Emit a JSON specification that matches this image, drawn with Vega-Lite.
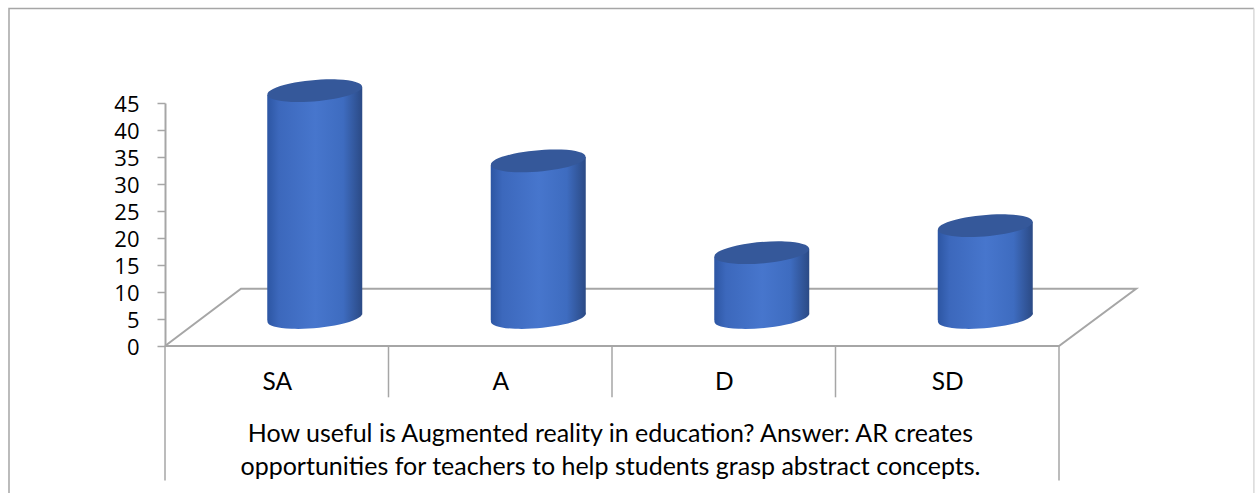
{"$schema":"https://vega.github.io/schema/vega-lite/v6.json","width":894,"height":243,"autosize":{"type":"none"},"padding":{"left":165,"top":103,"right":196,"bottom":147},"background":"white","config":{"view":{"stroke":null}},
"datasets":{"answers":[{"answer":"SA","pos":0.5,"value":42},{"answer":"A","pos":1.5,"value":29},{"answer":"D","pos":2.5,"value":12},{"answer":"SD","pos":3.5,"value":17}],
"frame":[{"order":1,"pos":-0.698,"value":-30},{"order":2,"pos":-0.698,"value":62.5},{"order":3,"pos":4.872,"value":62.5}],
"frameRight":[{"order":1,"pos":4.872,"value":62.5},{"order":2,"pos":4.872,"value":-30}],
"floor":[{"order":1,"pos":0,"value":0},{"order":2,"pos":0.34,"value":10.6},{"order":3,"pos":4.345,"value":10.6},{"order":4,"pos":4,"value":0},{"order":5,"pos":0,"value":0}],
"dividers":[{"pos":0,"value":0,"value2":-24.9},{"pos":1,"value":0,"value2":-9.5},{"pos":2,"value":0,"value2":-9.5},{"pos":3,"value":0,"value2":-9.5},{"pos":4,"value":0,"value2":-24.9}]},
"data":{"name":"answers"},
"encoding":{
"x":{"field":"pos","type":"quantitative","scale":{"domain":[0,4],"nice":false,"zero":false,"padding":0},"axis":{"values":[0.5,1.5,2.5,3.5],"labelExpr":"datum.value==0.5?'SA':datum.value==1.5?'A':datum.value==2.5?'D':'SD'","grid":false,"domain":false,"ticks":false,"labelFont":"Lato","labelFontSize":24.5,"labelColor":"#000000","labelPadding":36,"labelBaseline":"middle","title":["How useful is Augmented reality in education? Answer: AR creates","opportunities for teachers to help students grasp abstract concepts."],"titleFont":"Lato","titleFontSize":25,"titleFontWeight":"normal","titleColor":"#000000","titleLineHeight":33,"titlePadding":28,"titleX":445}},
"y":{"field":"value","type":"quantitative","scale":{"domain":[0,45],"nice":false},"axis":{"title":null,"values":[0,5,10,15,20,25,30,35,40,45],"grid":false,"domain":true,"domainColor":"#a6a6a6","domainWidth":2,"ticks":true,"tickColor":"#a6a6a6","tickWidth":1.5,"tickSize":8,"labelFont":"Open Sans","labelFontSize":22,"labelColor":"#000000","labelPadding":18,"labelOffset":1}}},
"layer":[
{"data":{"name":"frame"},"mark":{"type":"line","color":"#a6a6a6","strokeWidth":1.5,"clip":false},"encoding":{"order":{"field":"order"}}},
{"data":{"name":"frameRight"},"mark":{"type":"line","color":"#d9d9d9","strokeWidth":1.5,"clip":false},"encoding":{"order":{"field":"order"}}},
{"data":{"name":"floor"},"mark":{"type":"line","color":"#a6a6a6","strokeWidth":2,"clip":false},"encoding":{"order":{"field":"order"}}},
{"data":{"name":"dividers"},"mark":{"type":"rule","color":"#a6a6a6","strokeWidth":1.5,"clip":false},"encoding":{"y2":{"field":"value2"}}},
{"mark":{"type":"point","filled":true,"opacity":1,"strokeWidth":0,"xOffset":38,"yOffset":-28.5,"shape":"M-0.996,0.087 A 1 0.22 -5 1 1 0.996,-0.087 A 1 0.22 -5 1 1 -0.996,0.087 Z","size":9025,"fill":{"gradient":"linear","x1":0,"y1":0,"x2":1,"y2":0,"stops":[{"offset":0,"color":"#2d56a3"},{"offset":0.12,"color":"#3c68bc"},{"offset":0.5,"color":"#4776cd"},{"offset":0.8,"color":"#3e6cc0"},{"offset":1,"color":"#2b4a85"}]}},"encoding":{"y":{"datum":0,"type":"quantitative"}}},
{"mark":{"type":"bar","width":48.5,"xOffset":14.75,"yOffset":-24.5,"y2Offset":-25.5,"fill":{"gradient":"linear","x1":0,"y1":0,"x2":1,"y2":0,"stops":[{"offset":0,"color":"#2d56a3"},{"offset":0.24,"color":"#3c68bc"},{"offset":1,"color":"#4776cd"}]}},"encoding":{"y2":{"datum":0}}},
{"mark":{"type":"bar","width":47.5,"xOffset":61.75,"yOffset":-32.5,"y2Offset":-31.5,"fill":{"gradient":"linear","x1":0,"y1":0,"x2":1,"y2":0,"stops":[{"offset":0,"color":"#4776cd"},{"offset":0.6,"color":"#3e6cc0"},{"offset":1,"color":"#2b4a85"}]}},"encoding":{"y2":{"datum":0}}},
{"mark":{"type":"point","filled":true,"opacity":1,"strokeWidth":0,"xOffset":38,"yOffset":-28.5,"shape":"M-0.996,0.087 A 1 0.22 -5 1 1 0.996,-0.087 A 1 0.22 -5 1 1 -0.996,0.087 Z","size":9025,"fill":"#35589a"}}
]}
